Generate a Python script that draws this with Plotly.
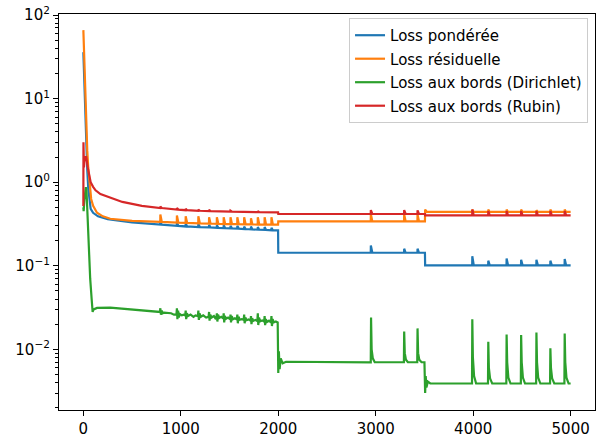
import plotly.graph_objects as go

# ---------------- data ----------------
labels = ["Loss pondérée", "Loss résiduelle", "Loss aux bords (Dirichlet)", "Loss aux bords (Rubin)"]
colors = ["#1f77b4", "#ff7f0e", "#2ca02c", "#d62728"]

blue_pts = [
    [0, 36], [10, 14], [20, 6.0], [30, 2.6], [40, 1.4], [50, 0.85], [60, 0.62], [75, 0.48],
    [100, 0.43], [150, 0.39], [250, 0.36], [500, 0.33],
    [789, 0.31], [790, 0.335], [805, 0.31],
    [959, 0.30], [960, 0.325], [975, 0.30],
    [1049, 0.295], [1050, 0.32], [1065, 0.295],
    [1179, 0.29], [1180, 0.315], [1195, 0.29],
    [1289, 0.287], [1290, 0.31], [1305, 0.287],
    [1369, 0.284], [1370, 0.305], [1385, 0.284],
    [1439, 0.282], [1440, 0.305], [1455, 0.282],
    [1509, 0.28], [1510, 0.30], [1525, 0.28],
    [1579, 0.278], [1580, 0.30], [1595, 0.278],
    [1649, 0.275], [1650, 0.295], [1665, 0.275],
    [1719, 0.272], [1720, 0.295], [1735, 0.272],
    [1789, 0.27], [1790, 0.29], [1805, 0.27],
    [1859, 0.268], [1860, 0.29], [1875, 0.268],
    [1929, 0.266], [1930, 0.285], [1945, 0.266],
    [1998, 0.265], [2000, 0.143],
    [2949, 0.143], [2950, 0.175], [2965, 0.143],
    [3291, 0.143], [3292, 0.16], [3307, 0.143],
    [3428, 0.143], [3429, 0.16], [3444, 0.143],
    [3505, 0.143], [3507, 0.101],
    [3990, 0.101], [3991, 0.13], [4006, 0.101],
    [4154, 0.101], [4155, 0.115], [4170, 0.101],
    [4342, 0.101], [4343, 0.122], [4358, 0.101],
    [4491, 0.101], [4492, 0.118], [4507, 0.101],
    [4648, 0.101], [4649, 0.118], [4664, 0.101],
    [4791, 0.101], [4792, 0.115], [4807, 0.101],
    [4938, 0.101], [4939, 0.12], [4954, 0.101],
    [5000, 0.101],
]

orange_pts = [
    [0, 66], [10, 25], [20, 9.7], [30, 4.5], [40, 2.4], [50, 1.5], [61, 1.0], [80, 0.63],
    [100, 0.52], [140, 0.43], [200, 0.39], [276, 0.365], [500, 0.345],
    [789, 0.335], [790, 0.41], [805, 0.335],
    [959, 0.328], [960, 0.40], [975, 0.328],
    [1049, 0.325], [1050, 0.39], [1065, 0.325],
    [1179, 0.322], [1180, 0.39], [1195, 0.322],
    [1289, 0.32], [1290, 0.38], [1305, 0.32],
    [1369, 0.318], [1370, 0.38], [1385, 0.318],
    [1439, 0.316], [1440, 0.38], [1455, 0.316],
    [1509, 0.315], [1510, 0.38], [1525, 0.315],
    [1579, 0.314], [1580, 0.38], [1595, 0.314],
    [1649, 0.313], [1650, 0.38], [1665, 0.313],
    [1719, 0.312], [1720, 0.37], [1735, 0.312],
    [1789, 0.311], [1790, 0.38], [1805, 0.311],
    [1859, 0.31], [1860, 0.38], [1875, 0.31],
    [1929, 0.31], [1930, 0.38], [1945, 0.31],
    [1998, 0.31], [2000, 0.339],
    [2949, 0.339], [2950, 0.415], [2965, 0.339],
    [3291, 0.339], [3292, 0.41], [3307, 0.339],
    [3428, 0.339], [3429, 0.41], [3444, 0.339],
    [3505, 0.339], [3507, 0.47], [3525, 0.44],
    [3990, 0.44], [3991, 0.47], [4006, 0.44],
    [4154, 0.44], [4155, 0.47], [4170, 0.44],
    [4342, 0.44], [4343, 0.47], [4358, 0.44],
    [4491, 0.44], [4492, 0.47], [4507, 0.44],
    [4648, 0.44], [4649, 0.46], [4664, 0.44],
    [4791, 0.44], [4792, 0.47], [4807, 0.44],
    [4938, 0.44], [4939, 0.47], [4954, 0.44],
    [5000, 0.44],
]

green_pts = [
    [0, 0.5], [3, 0.45], [10, 0.6], [25, 0.87], [32, 0.8], [42, 0.4], [55, 0.16], [70, 0.07],
    [85, 0.04], [95, 0.028], [105, 0.030], [140, 0.0313], [276, 0.0316], [500, 0.030], [700, 0.0285],
    [785, 0.028], [790, 0.031], [796, 0.026], [805, 0.029], [815, 0.027], [830, 0.0275],
    [900, 0.027], [930, 0.026],
    [955, 0.026], [960, 0.031], [965, 0.023], [972, 0.029], [980, 0.024], [990, 0.0265],
    [1010, 0.0255], [1030, 0.026],
    [1045, 0.0255], [1050, 0.029], [1055, 0.023], [1062, 0.027], [1075, 0.025],
    [1100, 0.026], [1130, 0.0245], [1150, 0.0255],
    [1175, 0.025], [1180, 0.029], [1185, 0.0225], [1192, 0.027], [1205, 0.0245],
    [1230, 0.0255], [1260, 0.024],
    [1285, 0.0245], [1290, 0.028], [1295, 0.022], [1302, 0.026], [1315, 0.024],
    [1340, 0.025], [1355, 0.0235],
    [1365, 0.024], [1370, 0.027], [1375, 0.0215], [1382, 0.026], [1395, 0.0238],
    [1415, 0.0245],
    [1435, 0.0235], [1440, 0.027], [1445, 0.021], [1452, 0.025], [1465, 0.0233],
    [1485, 0.024],
    [1505, 0.023], [1510, 0.026], [1515, 0.021], [1522, 0.025], [1535, 0.0229],
    [1555, 0.0235],
    [1575, 0.0228], [1580, 0.026], [1585, 0.0205], [1592, 0.0245], [1605, 0.0226],
    [1625, 0.023],
    [1645, 0.0225], [1650, 0.026], [1655, 0.0205], [1662, 0.024], [1675, 0.0223],
    [1695, 0.0228],
    [1715, 0.022], [1720, 0.025], [1725, 0.020], [1732, 0.0235], [1745, 0.0219],
    [1765, 0.0225],
    [1785, 0.0218], [1790, 0.027], [1795, 0.0195], [1802, 0.024], [1815, 0.0217],
    [1835, 0.0222],
    [1855, 0.0215], [1860, 0.025], [1865, 0.0195], [1872, 0.023], [1885, 0.0213],
    [1905, 0.022],
    [1925, 0.021], [1930, 0.025], [1935, 0.019], [1942, 0.023], [1955, 0.021],
    [1975, 0.0215],
    [1994, 0.021], [2000, 0.0052], [2006, 0.0095], [2014, 0.0058], [2025, 0.0078], [2045, 0.0068],
    [2080, 0.0071],
    [2949, 0.0070], [2952, 0.024], [2958, 0.010], [2970, 0.0078], [2990, 0.0070],
    [3289, 0.0070], [3292, 0.0163], [3298, 0.009], [3310, 0.0075], [3330, 0.0070],
    [3426, 0.0070], [3429, 0.0178], [3435, 0.009], [3447, 0.0075], [3470, 0.0070],
    [3500, 0.0070], [3507, 0.0030], [3513, 0.0048], [3520, 0.0035], [3535, 0.0041], [3560, 0.0039],
    [3988, 0.0039], [3991, 0.0229], [3997, 0.008], [4009, 0.0048], [4030, 0.0039],
    [4152, 0.0039], [4155, 0.0123], [4161, 0.006], [4173, 0.0045], [4195, 0.0039],
    [4340, 0.0039], [4343, 0.0150], [4349, 0.007], [4361, 0.0046], [4383, 0.0039],
    [4489, 0.0039], [4492, 0.0148], [4498, 0.007], [4510, 0.0046], [4532, 0.0039],
    [4646, 0.0039], [4649, 0.0159], [4655, 0.007], [4667, 0.0046], [4689, 0.0039],
    [4789, 0.0039], [4792, 0.0103], [4798, 0.006], [4810, 0.0045], [4832, 0.0039],
    [4936, 0.0039], [4939, 0.0155], [4945, 0.007], [4957, 0.0046], [4979, 0.0039],
    [5000, 0.0039],
]

red_pts = [
    [0, 0.52], [1, 3.0], [3, 0.6], [6, 1.5], [15, 2.0], [30, 2.0], [45, 1.5], [60, 1.2], [75, 1.0],
    [100, 0.88], [125, 0.8], [175, 0.72], [276, 0.65], [400, 0.58], [600, 0.52],
    [789, 0.49], [790, 0.51], [805, 0.49],
    [959, 0.47], [960, 0.49], [975, 0.47],
    [1049, 0.462], [1050, 0.48], [1065, 0.462],
    [1179, 0.455], [1180, 0.47], [1195, 0.455],
    [1289, 0.45], [1290, 0.465], [1305, 0.45],
    [1509, 0.443], [1510, 0.455], [1525, 0.443],
    [1789, 0.437], [1790, 0.45], [1805, 0.437],
    [1998, 0.435], [2000, 0.416],
    [2949, 0.416], [2950, 0.464], [2965, 0.416],
    [3291, 0.416], [3292, 0.464], [3307, 0.416],
    [3428, 0.416], [3429, 0.46], [3444, 0.416],
    [3505, 0.416], [3507, 0.40],
    [3990, 0.40], [3991, 0.47], [4006, 0.40],
    [4154, 0.40], [4155, 0.45], [4170, 0.40],
    [4342, 0.40], [4343, 0.45], [4358, 0.40],
    [4491, 0.40], [4492, 0.45], [4507, 0.40],
    [4648, 0.40], [4649, 0.45], [4664, 0.40],
    [4791, 0.40], [4792, 0.45], [4807, 0.40],
    [4938, 0.40], [4939, 0.45], [4954, 0.40],
    [5000, 0.40],
]

x_ticks = [0, 1000, 2000, 3000, 4000, 5000]
y_ticks = [0.01, 0.1, 1, 10, 100]
y_ticktext = ["10<sup>−2</sup>", "10<sup>−1</sup>", "10<sup>0</sup>", "10<sup>1</sup>", "10<sup>2</sup>"]

series = [blue_pts, orange_pts, green_pts, red_pts]

# ---------------- figure ----------------
fig = go.Figure()
for name, col, pts in zip(labels, colors, series):
    fig.add_trace(go.Scatter(
        x=[p[0] for p in pts], y=[p[1] for p in pts], mode="lines", name=name,
        legendgroup=name, line=dict(color=col, width=2.2)))

minor_vals = [m * 10.0 ** e for e in range(-3, 2) for m in range(2, 10)]

fig.update_layout(
    width=597, height=439,
    margin=dict(l=59, r=1, t=14, b=27),
    paper_bgcolor="white", plot_bgcolor="white",
    font=dict(family="DejaVu Sans", size=15, color="black"),
    showlegend=True,
    legend=dict(x=0.987, y=0.99, xanchor="right", yanchor="top",
                bgcolor="rgba(255,255,255,0.8)", bordercolor="#cccccc", borderwidth=1,
                font=dict(size=15), tracegroupgap=1),
    xaxis=dict(range=[-250, 5250], tickvals=x_ticks, ticks="outside", ticklen=5, tickwidth=1.2,
               tickcolor="black", showgrid=False, zeroline=False, showline=True, mirror=True,
               linecolor="black", linewidth=1.2),
    yaxis=dict(type="log", range=[-2.726, 2.012], tickvals=y_ticks, ticktext=y_ticktext,
               ticks="outside", ticklen=5, tickwidth=1.2, tickcolor="black", showgrid=False,
               zeroline=False, showline=True, mirror=True, linecolor="black", linewidth=1.2,
               minor=dict(tickvals=minor_vals, ticks="outside", ticklen=3, tickwidth=1,
                          tickcolor="black", showgrid=False)),
)

fig.write_html("out.html")
